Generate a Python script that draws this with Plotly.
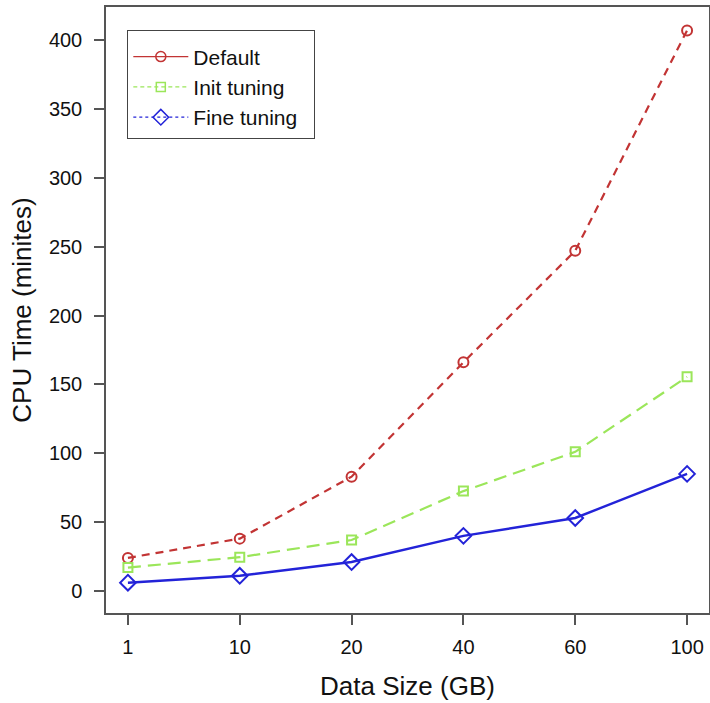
import plotly.graph_objects as go

sizes = ["1", "10", "20", "40", "60", "100"]
default_vals = [24, 38, 83, 166, 247, 407]
init_vals = [17, 24.5, 37, 72.5, 101, 155.5]
fine_vals = [6, 11, 21, 40, 53, 85]

red = "#c23434"
green = "#9be65a"
blue = "#2323d8"
font_family = "Liberation Sans, Arial, sans-serif"
pad = "\u00a0\u00a0"

fig = go.Figure()

fig.add_trace(go.Scatter(
    x=sizes, y=default_vals, mode="lines+markers", showlegend=False,
    line=dict(color=red, width=2.2, dash="8px,6px"),
    marker=dict(symbol="circle-open", size=10, color=red, line=dict(width=2)),
))
fig.add_trace(go.Scatter(
    x=sizes, y=init_vals, mode="lines+markers", showlegend=False,
    line=dict(color=green, width=2.2, dash="13px,7px"),
    marker=dict(symbol="square-open", size=9, color=green, line=dict(width=2)),
))
fig.add_trace(go.Scatter(
    x=sizes, y=fine_vals, mode="lines+markers", showlegend=False,
    line=dict(color=blue, width=2.4),
    marker=dict(symbol="diamond-open", size=12, color=blue, line=dict(width=2)),
))

# legend entries (styles as drawn in the original legend)
fig.add_trace(go.Scatter(
    x=[None], y=[None], mode="lines+markers", name="Default" + pad,
    line=dict(color=red, width=1.2),
    marker=dict(symbol="circle-open", size=10, color=red, line=dict(width=1.5)),
))
fig.add_trace(go.Scatter(
    x=[None], y=[None], mode="lines+markers", name="Init tuning" + pad,
    line=dict(color=green, width=1.2, dash="4px,3px"),
    marker=dict(symbol="square-open", size=9, color=green, line=dict(width=1.5)),
))
fig.add_trace(go.Scatter(
    x=[None], y=[None], mode="lines+markers", name="Fine tuning" + pad,
    line=dict(color=blue, width=1.2, dash="dot"),
    marker=dict(symbol="diamond-open", size=12, color=blue, line=dict(width=1.5)),
))

axis_common = dict(
    showline=True, linecolor="#555555", linewidth=1.5, mirror=True,
    showgrid=False, zeroline=False, automargin=False,
    ticks="outside", ticklen=10, tickwidth=1.5, tickcolor="#555555",
    tickfont=dict(size=20, color="#111111", family=font_family),
)

fig.update_layout(
    width=710, height=703,
    margin=dict(l=106, r=1, t=7, b=90),
    plot_bgcolor="white", paper_bgcolor="white",
    font=dict(family=font_family, color="#111111"),
    xaxis=dict(
        type="category", categoryorder="array", categoryarray=sizes,
        range=[-0.196, 5.196],
        title=dict(text="Data Size (GB)", font=dict(size=26), standoff=20),
        ticklabelstandoff=5,
        **axis_common,
    ),
    yaxis=dict(
        range=[-16, 424], tickvals=[0, 50, 100, 150, 200, 250, 300, 350, 400],
        title=dict(text="CPU Time (minites)", font=dict(size=26), standoff=10),
        ticklabelstandoff=8,
        **axis_common,
    ),
    legend=dict(
        x=0.035, y=0.962, xanchor="left", yanchor="top",
        bgcolor="white", bordercolor="#444444", borderwidth=1.2,
        font=dict(size=21, color="#111111", family=font_family),
        itemwidth=55,
        title=dict(text="\u00a0", font=dict(size=4)),
    ),
)

fig.write_html(
    "out.html",
    config={"displayModeBar": False},
    post_script="document.body.style.margin='0px';document.body.style.overflow='hidden';",
)
